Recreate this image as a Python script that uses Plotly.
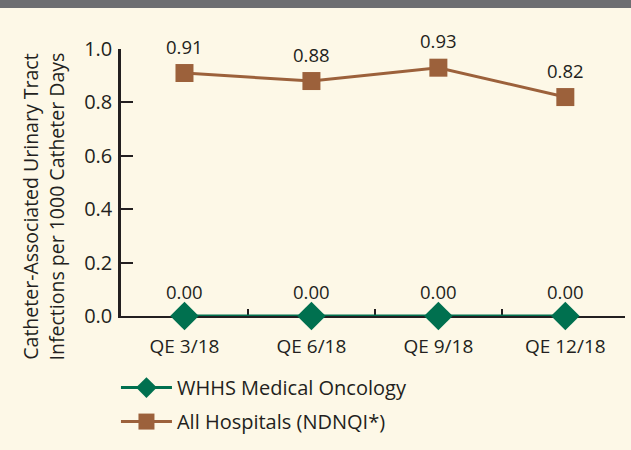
import plotly.graph_objects as go

categories = ["QE 3/18", "QE 6/18", "QE 9/18", "QE 12/18"]
whhs_values = [0.00, 0.00, 0.00, 0.00]
all_hosp_values = [0.91, 0.88, 0.93, 0.82]
y_ticks = [0.0, 0.2, 0.4, 0.6, 0.8, 1.0]
y_ticklabels = ["0.0", "0.2", "0.4", "0.6", "0.8", "1.0"]

GREEN = "#00704F"
BROWN = "#9C613B"
TEXT = "#231F20"
BG = "#FDF8E7"
FONT = "Open Sans"

fig = go.Figure()
fig.add_trace(go.Scatter(
    x=categories, y=whhs_values, name="WHHS Medical Oncology",
    mode="lines+markers", legendgroup="a",
    line=dict(color=GREEN, width=3),
    marker=dict(symbol="diamond", size=22, color=GREEN),
    cliponaxis=False,
))
fig.add_trace(go.Scatter(
    x=categories, y=all_hosp_values, name="All Hospitals (NDNQI*)",
    mode="lines+markers", legendgroup="b",
    line=dict(color=BROWN, width=3),
    marker=dict(symbol="square", size=18, color=BROWN),
    cliponaxis=False,
))

annotations = []
for c, v in zip(categories, all_hosp_values):
    annotations.append(dict(x=c, y=v, text=f"{v:.2f}", showarrow=False,
                            yshift=27, font=dict(family=FONT, size=18.5, color=TEXT)))
for c, v in zip(categories, whhs_values):
    annotations.append(dict(x=c, y=v, text=f"{v:.2f}", showarrow=False,
                            yshift=25, font=dict(family=FONT, size=18.5, color=TEXT)))
annotations.append(dict(
    xref="paper", yref="paper", x=-0.155, y=0.41, textangle=-90,
    xanchor="center", yanchor="middle",
    text="Catheter-Associated Urinary Tract<br>Infections per 1000 Catheter Days",
    showarrow=False, font=dict(family=FONT, size=19.5, color=TEXT),
))

fig.update_layout(
    width=631, height=450,
    margin=dict(l=121, r=6, t=49, b=134),
    paper_bgcolor=BG, plot_bgcolor=BG,
    font=dict(family=FONT, size=19, color=TEXT),
    showlegend=True,
    legend=dict(
        x=-0.01, y=-0.195, xanchor="left", yanchor="top",
        bgcolor="rgba(0,0,0,0)", font=dict(family=FONT, size=20, color=TEXT),
        tracegroupgap=5, traceorder="grouped", itemwidth=51,
    ),
    annotations=annotations,
    shapes=[dict(type="rect", xref="paper", yref="paper", x0=-1, x1=2,
                 y0=1.1536, y1=1.3, fillcolor="#6D6E71", line=dict(width=0))],
)
fig.update_xaxes(
    type="category", range=[-0.5, 3.47],
    showline=True, linecolor=TEXT, linewidth=2,
    ticks="inside", ticklen=7, tickwidth=2, tickcolor=TEXT,
    tickson="boundaries", showgrid=False, zeroline=False,
    layer="below traces", ticklabelstandoff=12,
    tickfont=dict(family=FONT, size=19, color=TEXT),
)
fig.update_yaxes(
    range=[0, 1.0], tickvals=y_ticks, ticktext=y_ticklabels,
    showline=True, linecolor=TEXT, linewidth=2.5,
    ticks="inside", ticklen=12, tickwidth=2, tickcolor=TEXT,
    showgrid=False, zeroline=False, layer="below traces",
    ticklabelstandoff=2,
    tickfont=dict(family=FONT, size=20, color=TEXT),
)

fig.write_html("out.html", config={"displayModeBar": False},
               post_script="document.body.style.margin='0';")
